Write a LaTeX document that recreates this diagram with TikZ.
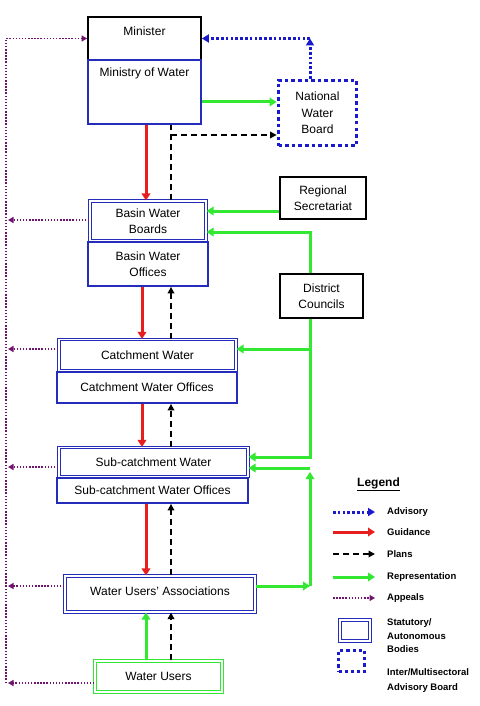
\documentclass[tikz,border=0pt]{standalone}
\usepackage{fontspec}
\setmainfont{Liberation Sans}
\usetikzlibrary{arrows.meta,calc}
\definecolor{boxblue}{RGB}{35,45,185}
\definecolor{ablue}{RGB}{25,25,205}
\definecolor{gred}{RGB}{230,30,30}
\definecolor{ggreen}{RGB}{50,232,50}
\definecolor{apurple}{RGB}{110,20,110}
\begin{document}
\begin{tikzpicture}[x=1pt,y=-1pt,
  box/.style={draw=boxblue, line width=1.8pt, inner sep=0pt, align=center, font=\fontsize{12}{16.5}\selectfont},
  dbox/.style={box, line width=1.1pt, double=white, double distance=1.6pt},
  gbox/.style={dbox, draw=ggreen},
  nwbbox/.style={box, draw=ablue, line width=3.8pt, dash pattern=on 3.6pt off 3pt},
  lbl/.style={inner sep=0pt, align=center, font=\fontsize{12}{16.5}\selectfont},
  legt/.style={inner sep=0pt, anchor=west, align=left, font=\bfseries\fontsize{9.5}{13.5}\selectfont},
  guid/.style={draw=gred, line width=3pt, -{Triangle[length=7pt,width=8.5pt]}},
  plans/.style={draw=black, line width=1.9pt, dash pattern=on 6pt off 4pt},
  plarr/.style={plans, -{Triangle[length=6.5pt,width=6.5pt]}},
  rep/.style={draw=ggreen, line width=3pt, -{Triangle[length=7pt,width=8.5pt]}},
  adv/.style={draw=ablue, line width=3pt, dash pattern=on 2.6pt off 2.2pt, -{Triangle[length=7pt,width=8pt]}},
  app/.style={draw=apurple, line width=1.5pt, dash pattern=on 1.5pt off 1.6pt, -{Triangle[length=5.5pt,width=6pt]}}
]
\useasboundingbox[fill=white] (0,0) rectangle (479,706);

% ---- main column boxes
\node[box, draw=black, minimum width=113pt, minimum height=43pt] (minister) at (144.5,38.5) {};
\node[box, minimum width=113pt, minimum height=64pt] (ministry) at (144.5,92) {};
\node[lbl] (ministert) at (144.5,31) {Minister};
\node[lbl] (ministryt) at (144.5,73) {Ministry of Water};

\node[nwbbox, minimum width=78pt, minimum height=65pt] (nwb) at (317.5,113) {National\\Water\\Board};
\node[box, draw=black, line width=1.5pt, minimum width=86pt, minimum height=42pt] (rs) at (323,198) {Regional\\Secretariat};
\node[box, draw=black, line width=1.5pt, minimum width=83pt, minimum height=44pt] (dc) at (321.5,296) {District\\Councils};

\node[dbox, minimum width=116pt, minimum height=40pt] (bwb) at (148,221) {Basin Water\\Boards};
\node[box, minimum width=120pt, minimum height=44pt] (bwo) at (148,264) {Basin Water\\Offices};

\node[dbox, minimum width=177pt, minimum height=31pt] (cw) at (147.5,355) {Catchment Water};
\node[box, minimum width=180pt, minimum height=31pt] (cwo) at (147,387.5) {Catchment Water Offices};

\node[dbox, minimum width=189pt, minimum height=29pt] (scw) at (153.5,462) {Sub-catchment Water};
\node[box, minimum width=191pt, minimum height=25pt] (scwo) at (152.5,490.5) {Sub-catchment Water Offices};

\node[dbox, minimum width=190pt, minimum height=36pt] (wua) at (160,594) {};
\node[lbl] (wuat) at (160,591) {Water Users' Associations};
\node[gbox, minimum width=127pt, minimum height=31pt] (wu) at (158.5,676.5) {Water Users};

% ---- helper coordinates
\coordinate (xr1) at (146,0);
\coordinate (xr2) at (142,0);
\coordinate (xd) at (171,0);
\coordinate (xg) at (310,0);
\coordinate (xp) at (6,0);
\coordinate (xpa) at (8,0);
\coordinate (pc) at (171,135);
\coordinate (y102) at (0,102);
\coordinate (y211) at (0,211);
\coordinate (y232) at (0,232);
\coordinate (y349) at (0,349);
\coordinate (y457) at (0,457);
\coordinate (y468) at (0,468);
\coordinate (y472) at (0,472);
\coordinate (y586) at (0,586);
\coordinate (y683) at (0,683);
\coordinate (y220) at (0,220);
\coordinate (y467) at (0,467);

% ---- guidance (red)
\draw[guid] (ministry.south -| xr1) -- (bwb.north -| xr1);
\draw[guid] (bwo.south -| xr2) -- (cw.north -| xr2);
\draw[guid] (cwo.south -| xr2) -- (scw.north -| xr2);
\draw[guid] (scwo.south -| xr1) -- (wua.north -| xr1);

% ---- plans (black dashed)
\draw[plans] (bwb.north -| xd) -- (ministry.south -| xd);
\draw[plarr] (pc) -- (pc -| nwb.west);
\draw[plarr] (cw.north -| xd) -- (bwo.south -| xd);
\draw[plarr] (scw.north -| xd) -- (cwo.south -| xd);
\draw[plarr] (wua.north -| xd) -- (scwo.south -| xd);
\draw[plarr] (wu.north -| xd) -- (wua.south -| xd);

% ---- representation (green)
\draw[rep] (ministry.east |- y102) -- (nwb.west |- y102);
\draw[rep] (rs.west |- y211) -- (bwb.east |- y211);
\draw[rep] (dc.north -| xg) |- (bwb.east |- y232);
\draw[rep] (dc.south -| xg) |- (scw.east |- y457);
\draw[rep] (xg |- y349) -- (cw.east |- y349);
\draw[rep] (wu.north -| xr1) -- (wua.south -| xr1);
\draw[rep] (wua.east |- y586) -- (xg |- y586);
\draw[rep] (xg |- y586) -- (xg |- y472);
\draw[rep] (xg |- y468) -- (scw.east |- y468);

% ---- advisory (blue dotted)
\draw[adv] (nwb.north -| xg) -- (xg |- minister.east);
\draw[adv] (xg |- minister.east) -- (minister.east);

% ---- appeals (purple dotted)
\draw[app] (xp |- y683) -- (xp |- minister.west) -- (minister.west);
\draw[app] (bwb.west |- y220) -- (xpa |- y220);
\draw[app] (cw.west |- y349) -- (xpa |- y349);
\draw[app] (scw.west |- y467) -- (xpa |- y467);
\draw[app] (wua.west |- y586) -- (xpa |- y586);
\draw[app] (wu.west |- y683) -- (xpa |- y683);

% ---- legend
\node[inner sep=0pt, font=\bfseries\fontsize{12}{14}\selectfont] (legtitle) at (378.5,484) {\underline{Legend}};
\node[legt] (l1) at (387,512) {Advisory};
\node[legt] (l2) at (387,532) {Guidance};
\node[legt] (l3) at (387,554) {Plans};
\node[legt] (l4) at (387,577) {Representation};
\node[legt] (l5) at (387,598) {Appeals};
\node[legt] (l6) at (387,636) {Statutory/\\Autonomous\\Bodies};
\node[legt, font=\bfseries\fontsize{9.5}{15}\selectfont] (l7) at (387,680.5) {Inter/Multisectoral\\Advisory Board};
\coordinate (la1) at (333,512);
\coordinate (la2) at (333,532);
\coordinate (la3) at (333,554);
\coordinate (la4) at (333,577);
\coordinate (la5) at (333,598);
\draw[adv, shorten >=12pt] (la1) -- (l1.west);
\draw[guid, shorten >=12pt] (la2) -- (l2.west);
\draw[plarr, shorten >=12pt] (la3) -- (l3.west);
\draw[rep, shorten >=12pt] (la4) -- (l4.west);
\draw[app, shorten >=12pt] (la5) -- (l5.west);
\node[dbox, minimum width=30pt, minimum height=21pt] (lbox1) at (355,630.5) {};
\node[nwbbox, line width=3.2pt, dash pattern=on 3.2pt off 3pt, minimum width=26pt, minimum height=21pt] (lbox2) at (351.5,661) {};
\end{tikzpicture}
\end{document}
